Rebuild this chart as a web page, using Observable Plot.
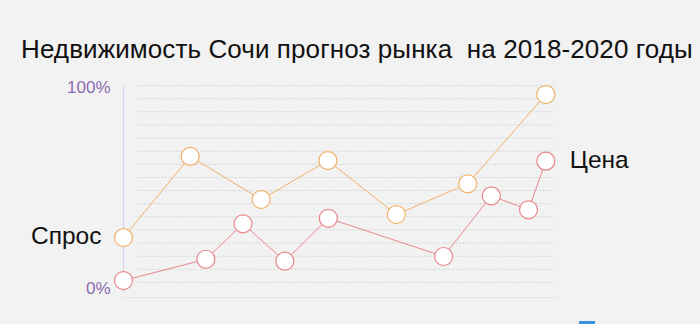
<!DOCTYPE html>
<html><head><meta charset="utf-8">
<script src="https://cdn.jsdelivr.net/npm/d3@7"></script>
<script src="https://cdn.jsdelivr.net/npm/@observablehq/plot@0.6"></script>
<style>
html,body{margin:0;padding:0;background:#f2f2f2;width:700px;height:324px;overflow:hidden;font-family:"Liberation Sans",Arial,sans-serif;}
#wrap{position:relative;width:700px;height:324px;}
#title{box-sizing:border-box;height:70px;padding-top:34px;padding-left:21px;font-size:26px;line-height:30px;color:#111;white-space:pre;letter-spacing:0.1px;}
#blue{position:absolute;left:579px;top:321px;width:16px;height:3px;background:#3d8fe0;}
</style></head>
<body><div id="wrap"><div id="title">Недвижимость Сочи прогноз рынка  на 2018-2020 годы</div><div id="chart"></div><div id="blue"></div></div>
<script>
const demandX = [0, 15.8, 32.6, 48.4, 64.6, 81.5, 100];
const demandY = [22.8, 64, 42.1, 61.9, 34.5, 50.1, 95.4];
const priceX = [0, 19.5, 28.3, 38.2, 48.5, 75.8, 87.1, 95.9, 100];
const priceY = [1, 11.8, 29.8, 10.8, 32.6, 13.2, 44, 36.9, 61.6];
const yTicks = [0, 100];
const seriesNames = ["Спрос", "Цена"];

const demand = demandX.map((x, i) => ({x, y: demandY[i]}));
const price = priceX.map((x, i) => ({x, y: priceY[i]}));
const grid = d3.range(0, 16).map(i => i * 100 / 15);
const orange = "#f2b16a", red = "#e9868b";

const chart = Plot.plot({
  width: 700, height: 254,
  marginLeft: 123, marginRight: 154.7, marginTop: 15, marginBottom: 42,
  x: {domain: [0, 100], axis: null},
  y: {domain: [0, 100], axis: null},
  style: {background: "transparent", fontFamily: "Liberation Sans, Arial, sans-serif"},
  marks: [
    Plot.ruleY(grid, {x1: 3.3, x2: 102.3, stroke: "#d6d6d6", strokeWidth: 1, strokeDasharray: "2,1.5"}),
    Plot.ruleX([0], {y1: -5.6, y2: 100, stroke: "#d9cfea", strokeWidth: 1.2}),
    Plot.ruleY([-7.6], {x1: 0, x2: 102.8, stroke: "#e6e0f2", strokeWidth: 1}),
    Plot.text(yTicks.filter(d => d === 100), {x: 0, y: d => d, text: d => d + "%", dx: -13, dy: 2.5, textAnchor: "end", fill: "#8c6bb1", fontSize: 17}),
    Plot.text(yTicks.filter(d => d === 0), {x: 0, y: d => d, text: d => d + "%", dx: -13, dy: 6, textAnchor: "end", fill: "#8c6bb1", fontSize: 17}),
    Plot.line(demand, {x: "x", y: "y", stroke: orange, strokeWidth: 1}),
    Plot.line(price, {x: "x", y: "y", stroke: red, strokeWidth: 1}),
    Plot.dot(demand, {x: "x", y: "y", r: 9, fill: "white", stroke: orange, strokeWidth: 1.2}),
    Plot.dot(price, {x: "x", y: "y", r: 9, fill: "white", stroke: red, strokeWidth: 1.2}),
    Plot.text([demand[0]], {x: "x", y: "y", text: () => seriesNames[0], dx: -22, dy: -1, textAnchor: "end", fill: "#111", fontSize: 24.5}),
    Plot.text([price[price.length - 1]], {x: "x", y: "y", text: () => seriesNames[1], dx: 24, dy: -1, textAnchor: "start", fill: "#111", fontSize: 24.5})
  ]
});
document.getElementById("chart").appendChild(chart);
</script></body></html>
